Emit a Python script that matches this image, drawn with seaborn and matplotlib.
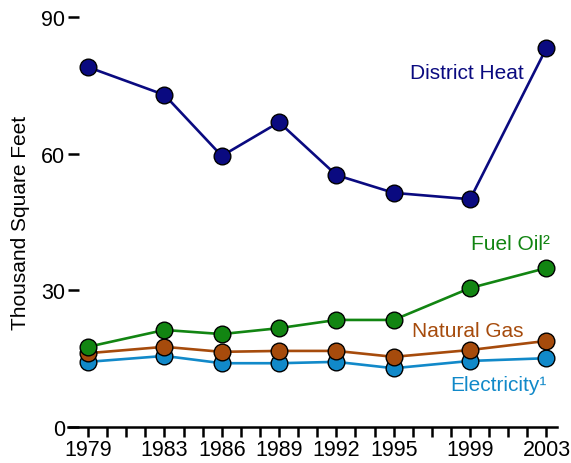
import numpy as np
import pandas as pd
from matplotlib import pyplot as plt
import seaborn as sns

years = [1979, 1983, 1986, 1989, 1992, 1995, 1999, 2003]
district_heat = [79.0, 72.9, 59.5, 66.9, 55.3, 51.4, 50.0, 83.2]
fuel_oil = [17.6, 21.3, 20.4, 21.7, 23.5, 23.5, 30.5, 34.9]
natural_gas = [16.2, 17.6, 16.5, 16.7, 16.7, 15.4, 16.9, 18.9]
electricity = [14.3, 15.6, 14.0, 14.0, 14.3, 12.9, 14.5, 15.1]

series = ["Electricity\u00b9", "Natural Gas", "Fuel Oil\u00b2", "District Heat"]
colors = ["#1189c9", "#a64b0c", "#128512", "#0a0a80"]

df = pd.DataFrame({
    "year": years * 4,
    "value": electricity + natural_gas + fuel_oil + district_heat,
    "series": np.repeat(series, len(years)),
})

sns.set_style("white")
plt.rcParams['font.family'] = ['Liberation Sans', 'DejaVu Sans']
plt.rcParams['text.color'] = 'black'
plt.rcParams['axes.labelcolor'] = 'black'
plt.rcParams['xtick.labelcolor'] = 'black'
plt.rcParams['ytick.labelcolor'] = 'black'

fig = plt.figure(figsize=(5.71, 4.64), dpi=100)
ax = fig.add_axes([68 / 571, 1 - 428 / 464, (557 - 68) / 571, (428 - 18) / 464])

sns.lineplot(data=df, x="year", y="value", hue="series", hue_order=series,
             palette=colors, marker="o", markersize=12, markeredgecolor="black",
             markeredgewidth=1, linewidth=1.9, legend=False, ax=ax)

# labels beside the lines
ax.text(2001.8, 77.9, "District Heat", color=colors[3], ha="right", va="center", fontsize=15)
ax.text(2003.2, 40.2, "Fuel Oil\u00b2", color=colors[2], ha="right", va="center", fontsize=15)
ax.text(2001.8, 21.1, "Natural Gas", color=colors[1], ha="right", va="center", fontsize=15)
ax.text(2003.0, 9.4, "Electricity\u00b9", color=colors[0], ha="right", va="center", fontsize=15)

ax.set_xlim(1977.95, 2003.55)
ax.set_ylim(0, 90)
ax.set_xticks(years)
ax.set_xticks(range(1979, 2004), minor=True)
ax.set_yticks([0, 30, 60, 90])
ax.set_xlabel("")
ax.set_ylabel("Thousand Square Feet", fontsize=15, labelpad=8)

for s in ["top", "right", "left"]:
    ax.spines[s].set_visible(False)
ax.spines["bottom"].set_linewidth(1.8)
ax.spines["bottom"].set_color("black")

ax.tick_params(axis="x", which="both", direction="out", length=7, width=1.8,
               color="black", labelsize=15.5, pad=2, bottom=True)
ax.tick_params(axis="y", direction="in", length=8, width=1.8, color="black",
               labelsize=15.5, pad=2, left=True)
ax.patch.set_alpha(0)

fig.savefig("out.png", dpi=100)
